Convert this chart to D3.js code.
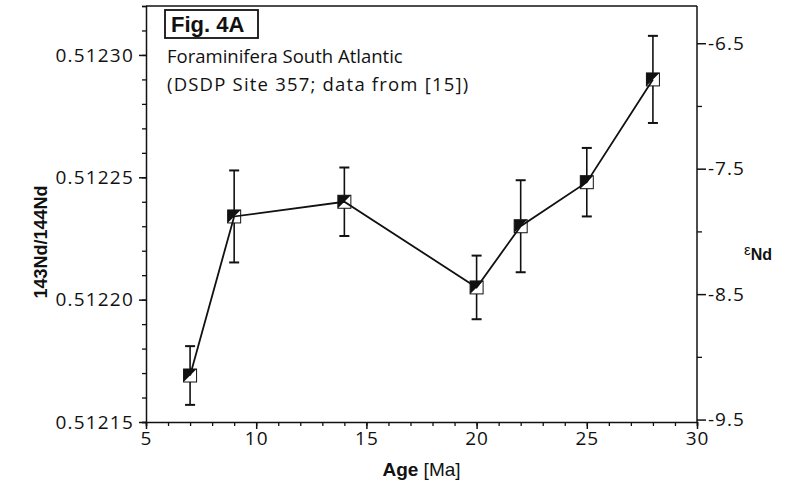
<!DOCTYPE html>
<html>
<head>
<meta charset="utf-8">
<script src="https://cdn.jsdelivr.net/npm/d3@7"></script>
<style>
  body { margin: 0; background: #fff; }
  svg { display: block; }
  text { font-family: "Open Sans", "DejaVu Sans", sans-serif; fill: #111; }
</style>
</head>
<body>
<div id="grafico"></div>
<script>
// Datos (Fig. 4A)
const edades = [7, 9, 14, 20, 22, 25, 28];
const razones = [0.512169, 0.512234, 0.512240, 0.512205, 0.512230, 0.512248, 0.512290];
const errores = [0.000012, 0.0000188, 0.000014, 0.000013, 0.0000188, 0.000014, 0.0000178];

const ticksX = [5, 10, 15, 20, 25, 30];
const ticksY = [0.51215, 0.51220, 0.51225, 0.51230];
const ticksEps = [-6.5, -7.5, -8.5, -9.5];
const CHUR = 0.512638;

const ancho = 792, alto = 492;
const izq = 146, der = 697, arriba = 6, abajo = 422;

const svg = d3.select("#grafico").append("svg")
  .attr("width", ancho).attr("height", alto);

const x = d3.scaleLinear().domain([5, 30]).range([izq, der]);
const y = d3.scaleLinear().domain([0.51215, 0.51232]).range([abajo, arriba]);
// eje derecho: epsilon Nd relativo a CHUR
const yEps = d3.scaleLinear()
  .domain([-9.5, -6.5])
  .range([y(CHUR * (1 - 9.5e-4)), y(CHUR * (1 - 6.5e-4))]);

// marco superior
svg.append("line")
  .attr("x1", izq).attr("x2", der).attr("y1", arriba).attr("y2", arriba)
  .attr("stroke", "#111").attr("stroke-width", 1.5);

// eje izquierdo
const ejeY = svg.append("g").attr("transform", `translate(${izq},0)`)
  .call(d3.axisLeft(y).tickValues(d3.range(0.51215, 0.512325, 0.00001)).tickSize(4).tickFormat(""));
ejeY.selectAll(".tick line").attr("stroke", "#111").attr("stroke-width", 1.3);
ejeY.select(".domain").attr("stroke", "#111").attr("stroke-width", 1.5);

const ejeYMayor = svg.append("g").attr("transform", `translate(${izq},0)`)
  .call(d3.axisLeft(y).tickValues(ticksY).tickSize(7).tickPadding(5).tickFormat(d3.format(".5f")));
ejeYMayor.select(".domain").remove();
ejeYMayor.selectAll(".tick line").attr("stroke", "#111").attr("stroke-width", 1.5);
ejeYMayor.selectAll(".tick text").style("font-size", "19px").style("letter-spacing", "1.2px").attr("fill", "#111");

// eje inferior
const ejeX = svg.append("g").attr("transform", `translate(0,${abajo})`)
  .call(d3.axisBottom(x).tickValues(d3.range(5, 31, 1)).tickSize(4).tickFormat(""));
ejeX.selectAll(".tick line").attr("stroke", "#111").attr("stroke-width", 1.3);
ejeX.select(".domain").attr("stroke", "#111").attr("stroke-width", 1.5);

const ejeXMayor = svg.append("g").attr("transform", `translate(0,${abajo})`)
  .call(d3.axisBottom(x).tickValues(ticksX).tickSize(7).tickPadding(3));
ejeXMayor.select(".domain").remove();
ejeXMayor.selectAll(".tick line").attr("stroke", "#111").attr("stroke-width", 1.5);
ejeXMayor.selectAll(".tick text").style("font-size", "19px").style("letter-spacing", "1px").attr("fill", "#111");

// eje derecho (epsilon)
const ejeE = svg.append("g").attr("transform", `translate(${der},0)`)
  .call(d3.axisRight(yEps).tickValues([-7, -8, -9]).tickSize(5).tickFormat(""));
ejeE.selectAll(".tick line").attr("stroke", "#111").attr("stroke-width", 1.3);
ejeE.select(".domain").remove();
svg.append("line")
  .attr("x1", der).attr("x2", der).attr("y1", arriba).attr("y2", abajo)
  .attr("stroke", "#111").attr("stroke-width", 1.5);

const ejeEMayor = svg.append("g").attr("transform", `translate(${der},0)`)
  .call(d3.axisRight(yEps).tickValues(ticksEps).tickSize(9).tickPadding(2).tickFormat(d3.format(".1f")));
ejeEMayor.select(".domain").remove();
ejeEMayor.selectAll(".tick line").attr("stroke", "#111").attr("stroke-width", 1.5);
ejeEMayor.selectAll(".tick text").style("font-size", "19px").style("letter-spacing", "1px").attr("fill", "#111")
  .text(d => "-" + Math.abs(d).toFixed(1));

// titulos de ejes
svg.append("text")
  .attr("transform", `translate(47,${(arriba + abajo) / 2 + 28}) rotate(-90)`)
  .attr("text-anchor", "middle")
  .style("font-family", "'Liberation Sans', Arial, sans-serif")
  .style("font-size", "18px").style("font-weight", "bold")
  .text("143Nd/144Nd");

const tituloX = svg.append("text")
  .attr("x", (izq + der) / 2).attr("y", 476)
  .attr("text-anchor", "middle")
  .style("font-family", "'Liberation Sans', Arial, sans-serif")
  .style("font-size", "19px");
tituloX.append("tspan").style("font-weight", "bold").text("Age");
tituloX.append("tspan").text(" [Ma]");

const tituloE = svg.append("text")
  .attr("x", 744).attr("y", 260)
  .style("font-family", "'Liberation Sans', Arial, sans-serif");
tituloE.append("tspan").style("font-size", "15px").attr("dy", -5).text("ε");
tituloE.append("tspan").style("font-size", "16px").style("font-weight", "bold").attr("dy", 5).text("Nd");

// rotulo de la figura
svg.append("rect")
  .attr("x", 165).attr("y", 10).attr("width", 93).attr("height", 28)
  .attr("fill", "none").attr("stroke", "#111").attr("stroke-width", 1.8);
svg.append("text")
  .attr("x", 171).attr("y", 32)
  .style("font-family", "'Liberation Sans', Arial, sans-serif")
  .style("font-size", "22px").style("font-weight", "bold")
  .text("Fig. 4A");
svg.append("text").attr("x", 167).attr("y", 63).style("font-size", "18.5px")
  .text("Foraminifera South Atlantic");
svg.append("text").attr("x", 167).attr("y", 91).style("font-size", "18.5px").style("letter-spacing", "1.2px")
  .text("(DSDP Site 357; data from [15])");

// barras de error
const puntos = edades.map((e, i) => ({ edad: e, r: razones[i], err: errores[i] }));
const barras = svg.append("g").attr("stroke", "#111").attr("stroke-width", 1.6);
puntos.forEach(p => {
  const cx = x(p.edad);
  const y1 = y(p.r + p.err), y2 = y(p.r - p.err);
  barras.append("line").attr("x1", cx).attr("x2", cx).attr("y1", y1).attr("y2", y2);
  barras.append("line").attr("x1", cx - 5).attr("x2", cx + 5).attr("y1", y1).attr("y2", y1).attr("stroke-width", 2);
  barras.append("line").attr("x1", cx - 5).attr("x2", cx + 5).attr("y1", y2).attr("y2", y2).attr("stroke-width", 2);
});

// marcadores: cuadrado con mitad superior izquierda negra
const lado = 13;
const marcas = svg.append("g");
puntos.forEach(p => {
  const cx = x(p.edad), cy = y(p.r), h = lado / 2;
  marcas.append("rect")
    .attr("x", cx - h).attr("y", cy - h).attr("width", lado).attr("height", lado)
    .attr("fill", "#fff").attr("stroke", "#111").attr("stroke-width", 1);
  marcas.append("path")
    .attr("d", `M${cx - h},${cy - h}L${cx + h},${cy - h}L${cx - h},${cy + h}Z`)
    .attr("fill", "#111");
});

// linea que une los puntos
svg.append("path")
  .datum(puntos)
  .attr("fill", "none").attr("stroke", "#111").attr("stroke-width", 1.8)
  .attr("d", d3.line().x(d => x(d.edad)).y(d => y(d.r)));
</script>
</body>
</html>
